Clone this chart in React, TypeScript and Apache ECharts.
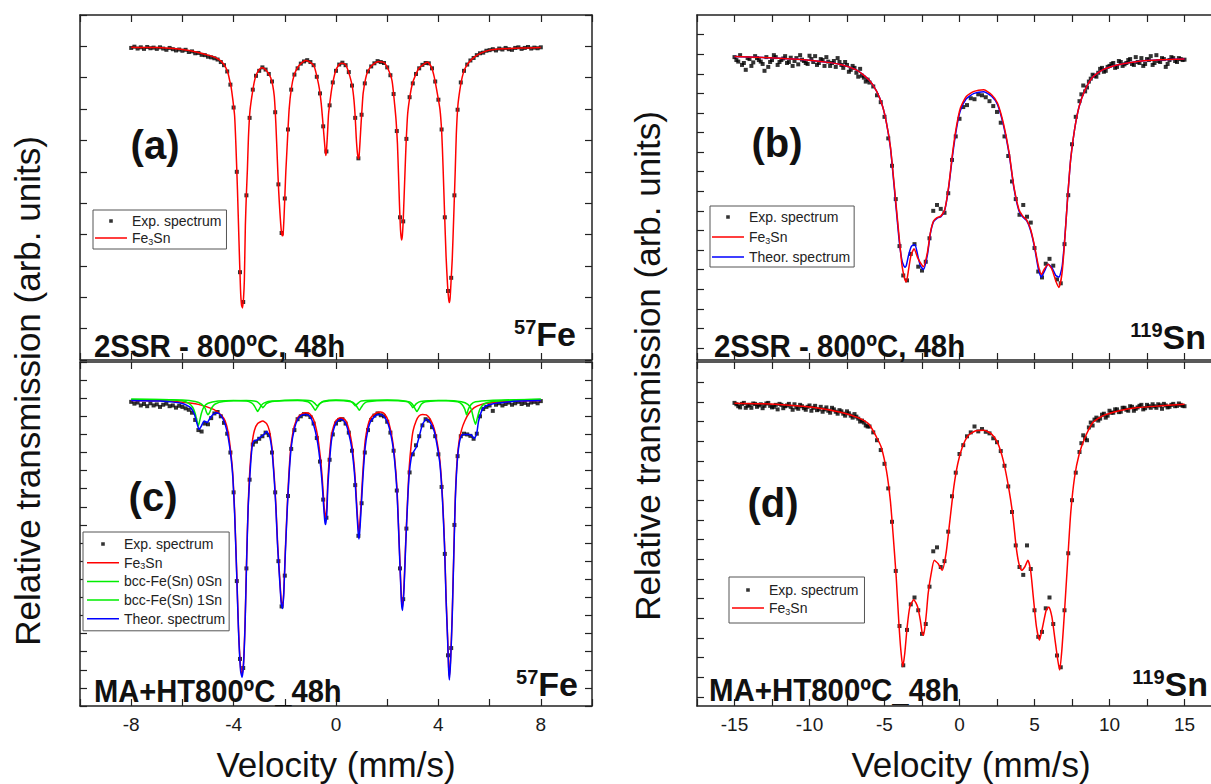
import React, { useEffect, useRef } from 'react';
import * as echarts from 'echarts';

const FONT = '"Liberation Sans", Arial, Helvetica, sans-serif';
const FRAME = '#222';

// ---------- tick labels ----------
const FE_TICK_LABELS = [-8, -4, 0, 4, 8];
const SN_TICK_LABELS = [-15, -10, -5, 0, 5, 10, 15];
const SN_Y_TICKS = [85, 86, 87, 88, 89, 90, 91, 92, 93, 94, 95, 96, 97, 98, 99, 100, 101];

// ---------- panel (a) 57Fe, 2SSR ----------
const A_EXP = [
[-8,99.95],[-7.875,99.99],[-7.75,99.93],[-7.625,99.97],[-7.5,99.92],[-7.375,99.98],[-7.25,99.94],[-7.125,99.96],[-7,99.92],[-6.875,99.97],[-6.75,99.93],[-6.625,99.89],[-6.5,99.95],[-6.375,99.91],[-6.25,99.87],[-6.125,99.9],[-6,99.86],[-5.875,99.89],[-5.75,99.82],[-5.625,99.84],[-5.5,99.78],[-5.375,99.79],[-5.25,99.73],[-5.125,99.72],[-5,99.67],[-4.875,99.65],[-4.75,99.62],[-4.625,99.58],[-4.5,99.5],[-4.375,99.4],[-4.25,99.2],[-4.125,98.78],[-4,98.05],[-3.875,96],[-3.75,92.8],[-3.625,91.85],[-3.5,95.25],[-3.375,97.72],[-3.25,98.62],[-3.125,99.06],[-3,99.22],[-2.875,99.33],[-2.75,99.26],[-2.625,99.12],[-2.5,98.88],[-2.375,97.9],[-2.25,95.6],[-2.125,94.05],[-2,95.15],[-1.875,97.35],[-1.75,98.62],[-1.625,99.1],[-1.5,99.3],[-1.375,99.45],[-1.25,99.52],[-1.125,99.56],[-1,99.5],[-0.875,99.4],[-0.75,99.03],[-0.625,98.5],[-0.5,97.45],[-0.375,96.65],[-0.25,98.12],[-0.125,98.85],[0,99.22],[0.125,99.42],[0.25,99.48],[0.375,99.4],[0.5,99.18],[0.625,98.75],[0.75,97.72],[0.875,96.43],[1,97.82],[1.125,98.82],[1.25,99.2],[1.375,99.36],[1.5,99.46],[1.625,99.53],[1.75,99.5],[1.875,99.47],[2,99.33],[2.125,99.08],[2.25,98.48],[2.375,97.3],[2.5,94.55],[2.625,94.42],[2.75,97.05],[2.875,98.38],[3,98.82],[3.125,99.12],[3.25,99.3],[3.375,99.41],[3.5,99.47],[3.625,99.46],[3.75,99.3],[3.875,98.88],[4,98.3],[4.125,97.35],[4.25,94.55],[4.375,92.2],[4.5,92.62],[4.625,95.25],[4.75,97.98],[4.875,98.85],[5,99.22],[5.125,99.42],[5.25,99.55],[5.375,99.63],[5.5,99.72],[5.625,99.78],[5.75,99.8],[5.875,99.86],[6,99.88],[6.125,99.91],[6.25,99.87],[6.375,99.93],[6.5,99.9],[6.625,99.95],[6.75,99.91],[6.875,99.89],[7,99.95],[7.125,99.97],[7.25,99.92],[7.375,99.95],[7.5,99.98],[7.625,99.93],[7.75,99.96],[7.875,99.94],[8,99.97]
];
const A_FE3SN = [
[-8,99.97],[-7.5,99.96],[-7,99.96],[-6.5,99.94],[-6,99.9],[-5.5,99.83],[-5,99.72],[-4.7,99.64],[-4.48,99.52],[-4.33,99.36],[-4.22,99.15],[-4.15,98.9],[-4.1,98.72],[-4.03,98.3],[-3.96,97.78],[-3.91,96.85],[-3.85,95.45],[-3.79,93.8],[-3.73,92.25],[-3.69,91.75],[-3.65,91.66],[-3.61,92],[-3.58,92.55],[-3.54,94.3],[-3.5,95.3],[-3.46,96.1],[-3.42,97.1],[-3.36,97.95],[-3.25,98.6],[-3.16,98.98],[-3.05,99.2],[-2.9,99.32],[-2.78,99.28],[-2.65,99.15],[-2.55,99],[-2.47,98.75],[-2.41,98.4],[-2.35,97.55],[-2.29,96.35],[-2.24,95.4],[-2.19,94.7],[-2.14,94.15],[-2.1,93.96],[-2.07,93.98],[-2.03,94.55],[-1.99,95.4],[-1.96,96],[-1.9,96.95],[-1.83,98],[-1.74,98.68],[-1.63,99.1],[-1.48,99.35],[-1.33,99.48],[-1.18,99.55],[-1,99.49],[-0.85,99.36],[-0.73,98.98],[-0.65,98.65],[-0.58,98.2],[-0.52,97.65],[-0.47,97.15],[-0.43,96.75],[-0.4,96.52],[-0.37,96.7],[-0.33,97.25],[-0.29,97.85],[-0.21,98.4],[-0.14,98.78],[-0.02,99.2],[0.1,99.4],[0.22,99.46],[0.32,99.45],[0.4,99.38],[0.54,99.05],[0.64,98.7],[0.7,98.3],[0.75,97.75],[0.79,97.1],[0.83,96.65],[0.87,96.42],[0.9,96.48],[0.94,96.98],[0.98,97.55],[1.02,98.05],[1.06,98.5],[1.15,98.95],[1.24,99.2],[1.39,99.38],[1.55,99.48],[1.66,99.52],[1.8,99.5],[1.89,99.48],[2.04,99.27],[2.19,98.9],[2.29,98.15],[2.35,97.6],[2.4,96.9],[2.44,95.95],[2.48,94.95],[2.52,94.15],[2.56,93.83],[2.59,93.95],[2.62,94.35],[2.66,95.2],[2.7,96.1],[2.74,96.95],[2.8,97.85],[2.89,98.42],[2.98,98.8],[3.09,99.05],[3.24,99.3],[3.46,99.45],[3.58,99.49],[3.73,99.33],[3.83,99.05],[3.94,98.58],[4.06,98],[4.13,97.25],[4.18,96.2],[4.24,94.7],[4.3,93.3],[4.36,92.35],[4.4,91.95],[4.43,91.83],[4.46,92],[4.5,92.6],[4.54,93.2],[4.6,94.6],[4.66,96.1],[4.7,97.2],[4.76,98.1],[4.84,98.62],[4.93,99.02],[5.03,99.28],[5.18,99.48],[5.4,99.66],[5.7,99.8],[6,99.88],[6.5,99.92],[7,99.94],[7.5,99.95],[8,99.96]
];

// ---------- panel (c) 57Fe, MA+HT ----------
const C_EXP = [
[-8,99.9],[-7.875,99.85],[-7.75,99.88],[-7.625,99.8],[-7.5,99.84],[-7.375,99.78],[-7.25,99.86],[-7.125,99.8],[-7,99.83],[-6.875,99.76],[-6.75,99.82],[-6.625,99.85],[-6.5,99.78],[-6.375,99.8],[-6.25,99.74],[-6.125,99.79],[-6,99.76],[-5.875,99.72],[-5.75,99.68],[-5.625,99.6],[-5.5,99.4],[-5.375,99.12],[-5.25,99.08],[-5.125,99.3],[-5,99.28],[-4.875,99.45],[-4.75,99.58],[-4.625,99.62],[-4.5,99.5],[-4.375,99.32],[-4.25,99.02],[-4.125,98.5],[-4,97.4],[-3.875,94.95],[-3.75,92.8],[-3.625,92.55],[-3.5,95.3],[-3.375,97.75],[-3.25,98.72],[-3.125,98.8],[-3,98.88],[-2.875,98.95],[-2.75,99.05],[-2.625,98.98],[-2.5,98.5],[-2.375,97.4],[-2.25,95.5],[-2.125,94.25],[-2,95.1],[-1.875,97.3],[-1.75,98.6],[-1.625,99.12],[-1.5,99.42],[-1.375,99.5],[-1.25,99.56],[-1.125,99.55],[-1,99.48],[-0.875,99.3],[-0.75,98.9],[-0.625,98.25],[-0.5,97.2],[-0.375,96.7],[-0.25,98.3],[-0.125,99],[0,99.3],[0.125,99.4],[0.25,99.42],[0.375,99.3],[0.5,99.05],[0.625,98.55],[0.75,97.6],[0.875,96.2],[1,97.1],[1.125,98.5],[1.25,99.12],[1.375,99.4],[1.5,99.52],[1.625,99.58],[1.75,99.53],[1.875,99.5],[2,99.35],[2.125,99.05],[2.25,98.55],[2.375,97.45],[2.5,95.3],[2.625,94.45],[2.75,96.4],[2.875,97.95],[3,98.45],[3.125,98.7],[3.25,98.95],[3.375,99.25],[3.5,99.42],[3.625,99.38],[3.75,99.2],[3.875,98.95],[4,98.45],[4.125,97.55],[4.25,95.7],[4.375,92.9],[4.5,93.1],[4.625,96.5],[4.75,98.4],[4.875,98.95],[5,99.02],[5.125,99],[5.25,98.96],[5.375,98.88],[5.5,99.02],[5.625,99.5],[5.75,99.7],[5.875,99.76],[6,99.8],[6.125,99.65],[6.25,99.82],[6.375,99.86],[6.5,99.8],[6.625,99.84],[6.75,99.88],[6.875,99.82],[7,99.86],[7.125,99.9],[7.25,99.84],[7.375,99.87],[7.5,99.82],[7.625,99.88],[7.75,99.9],[7.875,99.86],[8,99.92]
];
const C_FE3SN = [
[-8,99.94],[-6.88,99.93],[-5.98,99.89],[-5.38,99.83],[-4.78,99.69],[-4.48,99.53],[-4.33,99.37],[-4.21,99.05],[-4.1,98.45],[-4.03,97.9],[-3.96,96.89],[-3.88,95.24],[-3.81,93.68],[-3.73,92.58],[-3.67,92.35],[-3.61,92.72],[-3.55,93.87],[-3.49,95.61],[-3.43,97.08],[-3.36,98.09],[-3.28,98.73],[-3.19,99.1],[-3.06,99.3],[-2.86,99.37],[-2.71,99.3],[-2.6,99.1],[-2.5,98.64],[-2.41,97.81],[-2.35,97.08],[-2.28,95.98],[-2.2,95.06],[-2.14,94.42],[-2.09,94.23],[-2.04,94.65],[-1.98,95.79],[-1.9,97.08],[-1.83,98.04],[-1.75,98.73],[-1.63,99.23],[-1.48,99.48],[-1.33,99.57],[-1.18,99.6],[-1.03,99.57],[-0.88,99.42],[-0.73,99],[-0.61,98.36],[-0.54,97.81],[-0.48,97.17],[-0.44,96.8],[-0.41,96.71],[-0.36,96.99],[-0.32,97.72],[-0.26,98.36],[-0.18,98.96],[-0.09,99.23],[0.01,99.39],[0.16,99.46],[0.28,99.44],[0.39,99.37],[0.49,99.17],[0.61,98.78],[0.7,98.22],[0.76,97.67],[0.82,96.94],[0.87,96.44],[0.9,96.3],[0.94,96.62],[1,97.35],[1.06,98.09],[1.14,98.82],[1.24,99.23],[1.36,99.46],[1.59,99.6],[1.74,99.62],[1.89,99.57],[2.04,99.37],[2.19,98.91],[2.29,98.36],[2.38,97.54],[2.44,96.53],[2.5,95.43],[2.56,94.42],[2.6,94.23],[2.66,94.88],[2.72,95.98],[2.8,97.26],[2.86,98.09],[2.94,98.73],[3.01,99.1],[3.13,99.37],[3.24,99.51],[3.38,99.55],[3.53,99.54],[3.68,99.42],[3.83,99.17],[3.94,98.82],[4.06,98.27],[4.16,97.26],[4.24,95.98],[4.3,94.51],[4.36,93.41],[4.4,92.58],[4.43,92.31],[4.48,92.86],[4.54,94.05],[4.6,95.7],[4.66,97.26],[4.73,98.27],[4.81,98.82],[4.91,99.14],[5.03,99.37],[5.18,99.57],[5.4,99.74],[5.69,99.83],[6.14,99.88],[6.9,99.92],[8,99.94]
];
const C_BCC0 = [
[-8,99.97],[-6.5,99.96],[-6,99.93],[-5.75,99.86],[-5.6,99.75],[-5.5,99.58],[-5.43,99.36],[-5.38,99.23],[-5.33,99.36],[-5.26,99.58],[-5.16,99.76],[-5,99.86],[-4.6,99.92],[-4,99.94],[-3.5,99.92],[-3.3,99.87],[-3.2,99.8],[-3.12,99.7],[-3.06,99.63],[-3,99.7],[-2.92,99.8],[-2.8,99.87],[-2.5,99.92],[-1.5,99.94],[-1.1,99.9],[-0.98,99.84],[-0.88,99.74],[-0.81,99.67],[-0.74,99.74],[-0.64,99.84],[-0.5,99.9],[0,99.94],[0.6,99.9],[0.74,99.84],[0.84,99.74],[0.91,99.67],[0.98,99.74],[1.08,99.84],[1.22,99.9],[2,99.94],[2.85,99.9],[2.98,99.84],[3.08,99.72],[3.16,99.63],[3.24,99.72],[3.34,99.84],[3.5,99.9],[4.3,99.94],[4.9,99.9],[5.15,99.83],[5.28,99.7],[5.37,99.45],[5.45,99.28],[5.52,99.45],[5.62,99.7],[5.78,99.84],[6.1,99.91],[7,99.95],[8,99.97]
];
const C_BCC1 = [
[-8,99.97],[-6,99.95],[-5.5,99.91],[-5.25,99.84],[-5.12,99.73],[-5.05,99.6],[-5,99.54],[-4.94,99.6],[-4.86,99.73],[-4.72,99.84],[-4.4,99.91],[-3.5,99.94],[-3.1,99.91],[-2.98,99.84],[-2.91,99.78],[-2.86,99.74],[-2.8,99.78],[-2.72,99.85],[-2.5,99.91],[-1.5,99.95],[-0.95,99.92],[-0.82,99.85],[-0.73,99.79],[-0.64,99.85],[-0.5,99.92],[0,99.95],[0.55,99.92],[0.68,99.85],[0.76,99.79],[0.84,99.85],[0.98,99.92],[2,99.95],[2.78,99.91],[2.9,99.84],[2.96,99.78],[3,99.74],[3.06,99.78],[3.14,99.85],[3.3,99.91],[4,99.94],[4.75,99.9],[4.92,99.83],[5.03,99.7],[5.1,99.54],[5.17,99.7],[5.28,99.83],[5.45,99.9],[6,99.94],[8,99.97]
];
const C_THEOR = [
[-8,99.94],[-6.88,99.92],[-5.98,99.85],[-5.68,99.74],[-5.53,99.55],[-5.42,99.28],[-5.35,99.14],[-5.26,99.23],[-5.15,99.37],[-5.03,99.33],[-4.93,99.44],[-4.78,99.57],[-4.63,99.6],[-4.48,99.51],[-4.33,99.28],[-4.21,98.91],[-4.1,98.36],[-4.03,97.81],[-3.96,96.8],[-3.88,95.15],[-3.81,93.59],[-3.73,92.49],[-3.67,92.29],[-3.61,92.67],[-3.55,93.78],[-3.49,95.52],[-3.43,96.99],[-3.36,97.9],[-3.28,98.64],[-3.21,98.82],[-3.1,98.84],[-2.98,98.91],[-2.83,98.99],[-2.71,99.08],[-2.6,98.96],[-2.5,98.55],[-2.41,97.72],[-2.35,96.99],[-2.28,95.89],[-2.2,94.97],[-2.14,94.33],[-2.09,94.19],[-2.04,94.6],[-1.98,95.7],[-1.9,96.99],[-1.83,97.9],[-1.75,98.64],[-1.63,99.14],[-1.48,99.44],[-1.33,99.54],[-1.18,99.55],[-1.03,99.51],[-0.88,99.28],[-0.73,98.82],[-0.61,98.18],[-0.54,97.63],[-0.48,96.99],[-0.44,96.62],[-0.41,96.51],[-0.36,96.8],[-0.32,97.54],[-0.26,98.18],[-0.18,98.82],[-0.09,99.14],[0.01,99.33],[0.16,99.42],[0.28,99.39],[0.39,99.28],[0.49,99.05],[0.61,98.64],[0.7,98.09],[0.76,97.54],[0.82,96.8],[0.87,96.25],[0.9,96.11],[0.94,96.44],[1,97.17],[1.06,97.9],[1.14,98.64],[1.24,99.1],[1.36,99.37],[1.59,99.54],[1.74,99.55],[1.89,99.48],[2.04,99.28],[2.19,98.82],[2.29,98.27],[2.38,97.44],[2.44,96.44],[2.5,95.34],[2.56,94.33],[2.6,94.14],[2.66,94.78],[2.72,95.89],[2.8,97.17],[2.86,97.9],[2.94,98.36],[3.01,98.5],[3.13,98.64],[3.24,98.91],[3.38,99.28],[3.53,99.42],[3.68,99.33],[3.83,99.1],[3.94,98.73],[4.06,98.18],[4.16,97.17],[4.24,95.89],[4.3,94.42],[4.36,93.32],[4.4,92.49],[4.43,92.22],[4.48,92.77],[4.54,93.96],[4.6,95.61],[4.66,97.17],[4.73,98.18],[4.81,98.73],[4.91,98.98],[5.03,99],[5.18,99],[5.29,98.98],[5.4,98.89],[5.49,99],[5.57,99.37],[5.69,99.65],[5.84,99.78],[6.14,99.85],[6.6,99.89],[7.2,99.92],[8,99.94]
];

// ---------- panel (b) 119Sn, 2SSR ----------
const B_EXP = [
[-15,99.85],[-14.75,99.62],[-14.5,99.45],[-14.25,99.2],[-14,99.75],[-13.75,99.58],[-13.5,99.8],[-13.25,99.62],[-13,99.15],[-12.75,99.35],[-12.5,99.7],[-12.25,99.85],[-12,99.6],[-11.75,99.78],[-11.5,99.55],[-11.25,99.82],[-11,99.65],[-10.75,99.48],[-10.5,99.72],[-10.25,99.55],[-10,99.92],[-9.75,99.6],[-9.5,99.45],[-9.25,99.75],[-9,99.4],[-8.75,99.62],[-8.5,99.55],[-8.25,99.35],[-8,99.6],[-7.75,99.3],[-7.5,99.45],[-7.25,99.2],[-7,99.3],[-6.75,98.85],[-6.5,98.9],[-6.25,98.6],[-6,98.55],[-5.75,98.35],[-5.5,97.9],[-5.25,97.55],[-5,96.8],[-4.75,95.7],[-4.5,94.3],[-4.25,92.6],[-4,90.2],[-3.75,88.7],[-3.5,88.45],[-3.25,89.8],[-3,90.3],[-2.75,89.15],[-2.5,88.95],[-2.25,89.4],[-2,90.6],[-1.75,92],[-1.5,92.3],[-1.25,92.1],[-1,91.9],[-0.75,92.9],[-0.5,94.6],[-0.25,95.8],[0,96.7],[0.25,97.3],[0.5,97.4],[0.75,97.75],[1,97.7],[1.25,97.95],[1.5,97.9],[1.75,97.8],[2,97.6],[2.25,97.35],[2.5,97.05],[2.75,96.5],[3,95.8],[3.25,94.8],[3.5,93.5],[3.75,92.6],[4,91.8],[4.25,92.3],[4.5,91.7],[4.75,91.4],[5,90.1],[5.25,88.9],[5.5,88.6],[5.75,89.3],[6,89.55],[6.25,89.2],[6.5,88.5],[6.75,88.3],[7,90.3],[7.25,92.8],[7.5,95.4],[7.75,96.8],[8,97.6],[8.25,98.4],[8.5,98.3],[8.75,98.75],[9,98.9],[9.25,99.05],[9.5,99.3],[9.75,99.15],[10,99.4],[10.25,99.55],[10.5,99.35],[10.75,99.6],[11,99.48],[11.25,99.7],[11.5,99.5],[11.75,99.85],[12,99.55],[12.25,99.4],[12.5,99.75],[12.75,99.9],[13,99.55],[13.25,99.65],[13.5,99.8],[13.75,99.35],[14,99.7],[14.25,99.8],[14.5,99.6],[14.75,99.75],[15,99.72]
];
const B_EXP_WINGS = [
[-14.875,99.7],[-14.625,99.95],[-14.375,99.55],[-14.125,99.8],[-13.875,99.4],[-13.625,99.9],[-13.375,99.7],[-13.125,99.5],[-12.875,99.85],[-12.625,99.6],[-12.375,99.95],[-12.125,99.45],[-11.875,99.7],[-11.625,99.9],[-11.375,99.6],[-11.125,99.4],[-10.875,99.8],[-10.625,99.95],[-10.375,99.65],[-10.125,99.5],[-9.875,99.75],[-9.625,99.9],[-9.375,99.55],[-9.125,99.7],[-8.875,99.85],[-8.625,99.4],[-8.375,99.65],[-8.125,99.8],[-7.875,99.45],[-7.625,99.6],[-7.375,99.1],[-7.125,99.4],[-6.875,99.05],[-6.625,99.25],[-6.375,98.8],[-6.125,98.7],
[8.125,97.95],[8.375,98.1],[8.625,98.6],[8.875,98.95],[9.125,98.85],[9.375,99.25],[9.625,99.1],[9.875,99.35],[10.125,99.5],[10.375,99.3],[10.625,99.65],[10.875,99.4],[11.125,99.55],[11.375,99.75],[11.625,99.45],[11.875,99.6],[12.125,99.8],[12.375,99.5],[12.625,99.7],[12.875,99.45],[13.125,99.95],[13.375,99.6],[13.625,99.75],[13.875,99.5],[14.125,99.85],[14.375,99.65],[14.625,99.8],[14.875,99.7]
];
const B_FE3SN = [
[-15,99.88],[-12.27,99.8],[-9.68,99.66],[-7.86,99.46],[-6.82,99.17],[-6.04,98.69],[-5.52,98.1],[-5.13,97.34],[-4.87,96.49],[-4.61,95.3],[-4.43,93.94],[-4.22,92.24],[-4.01,90.55],[-3.83,89.19],[-3.65,88.51],[-3.55,88.37],[-3.39,89.02],[-3.24,89.7],[-3.03,90.07],[-2.79,89.61],[-2.61,89.35],[-2.4,89.15],[-2.14,89.87],[-1.94,90.89],[-1.73,91.48],[-1.5,91.65],[-1.24,91.73],[-0.98,92.07],[-0.72,93.26],[-0.46,94.96],[-0.2,96.32],[0.06,97.25],[0.45,97.84],[0.97,98.1],[1.62,98.18],[2.14,97.93],[2.53,97.51],[2.92,96.49],[3.31,94.96],[3.62,93.26],[3.96,92.07],[4.22,91.73],[4.48,91.53],[4.74,91.06],[5,90.21],[5.26,89.19],[5.46,88.76],[5.65,89.02],[5.91,89.27],[6.16,89.02],[6.42,88.42],[6.63,88.09],[6.84,88.85],[7.02,90.55],[7.2,92.58],[7.41,94.62],[7.67,96.15],[7.98,97.34],[8.37,98.18],[8.89,98.83],[9.54,99.2],[10.58,99.46],[11.88,99.63],[13.44,99.71],[15,99.75]
];
const B_THEOR = [
[-15,99.88],[-12.27,99.8],[-9.68,99.66],[-7.86,99.46],[-6.82,99.17],[-6.04,98.69],[-5.52,98.1],[-5.13,97.34],[-4.87,96.49],[-4.61,95.25],[-4.43,93.85],[-4.22,92.1],[-4.01,90.4],[-3.83,89.45],[-3.65,89.12],[-3.55,89.2],[-3.39,89.75],[-3.2,90.2],[-2.98,90.28],[-2.79,89.75],[-2.61,89.2],[-2.4,89],[-2.14,89.75],[-1.94,90.85],[-1.73,91.45],[-1.5,91.62],[-1.24,91.7],[-0.98,92.05],[-0.72,93.2],[-0.46,94.85],[-0.2,96.2],[0.06,97.12],[0.45,97.72],[0.97,98],[1.62,98.08],[2.14,97.85],[2.53,97.43],[2.92,96.4],[3.31,94.9],[3.62,93.2],[3.96,92],[4.22,91.68],[4.48,91.5],[4.74,91],[5,90.15],[5.26,89.02],[5.46,88.62],[5.65,88.9],[5.91,89.27],[6.16,89.1],[6.42,88.7],[6.63,88.62],[6.84,89.15],[7.02,90.62],[7.2,92.58],[7.41,94.62],[7.67,96.15],[7.98,97.34],[8.37,98.18],[8.89,98.83],[9.54,99.2],[10.58,99.46],[11.88,99.63],[13.44,99.71],[15,99.75]
];

// ---------- panel (d) 119Sn, MA+HT ----------
const D_EXP = [
[-15,99.95],[-14.75,99.78],[-14.5,99.9],[-14.25,99.7],[-14,99.85],[-13.75,99.92],[-13.5,99.75],[-13.25,99.88],[-13,99.8],[-12.75,99.95],[-12.5,99.72],[-12.25,99.85],[-12,99.9],[-11.75,99.68],[-11.5,99.82],[-11.25,99.75],[-11,99.88],[-10.75,99.65],[-10.5,99.78],[-10.25,99.6],[-10,99.82],[-9.75,99.7],[-9.5,99.58],[-9.25,99.75],[-9,99.62],[-8.75,99.55],[-8.5,99.7],[-8.25,99.5],[-8,99.58],[-7.75,99.4],[-7.5,99.52],[-7.25,99.3],[-7,99.38],[-6.75,99.15],[-6.5,99.05],[-6.25,98.8],[-6,98.75],[-5.75,98.45],[-5.5,98.05],[-5.25,97.55],[-5,96.85],[-4.75,95.6],[-4.5,93.9],[-4.25,91.4],[-4,88.6],[-3.75,86.6],[-3.5,88.4],[-3.25,89.7],[-3,90.05],[-2.75,89.4],[-2.5,88.2],[-2.25,88.7],[-2,90.6],[-1.75,92.4],[-1.5,92.6],[-1.25,91.6],[-1,91.9],[-0.75,93.4],[-0.5,95.2],[-0.25,96.4],[0,97.35],[0.25,97.8],[0.5,98.25],[0.75,98.45],[1,98.75],[1.25,98.5],[1.5,98.62],[1.75,98.48],[2,98.4],[2.25,98.15],[2.5,97.95],[2.75,97.5],[3,96.75],[3.25,95.7],[3.5,94.4],[3.75,92.7],[4,91.6],[4.25,91.2],[4.5,92.7],[4.75,91.5],[5,89.4],[5.25,88.05],[5.5,88.3],[5.75,89.5],[6,90.05],[6.25,88.7],[6.5,87.1],[6.75,86.5],[7,89.4],[7.25,92.3],[7.5,95],[7.75,96.4],[8,97.45],[8.25,98.3],[8.5,98.05],[8.75,98.95],[9,99.1],[9.25,99.05],[9.5,99.35],[9.75,99.2],[10,99.55],[10.25,99.45],[10.5,99.62],[10.75,99.5],[11,99.7],[11.25,99.55],[11.5,99.75],[11.75,99.65],[12,99.8],[12.25,99.62],[12.5,99.85],[12.75,99.7],[13,99.78],[13.25,99.88],[13.5,99.65],[13.75,99.82],[14,99.75],[14.25,99.9],[14.5,99.8],[14.75,99.85],[15,99.78]
];
const D_EXP_WINGS = [
[-14.875,99.88],[-14.625,99.72],[-14.375,99.95],[-14.125,99.8],[-13.875,99.7],[-13.625,99.9],[-13.375,99.82],[-13.125,99.68],[-12.875,99.92],[-12.625,99.8],[-12.375,99.75],[-12.125,99.62],[-11.875,99.85],[-11.625,99.78],[-11.375,99.9],[-11.125,99.6],[-10.875,99.72],[-10.625,99.85],[-10.375,99.68],[-10.125,99.75],[-9.875,99.55],[-9.625,99.8],[-9.375,99.62],[-9.125,99.5],[-8.875,99.72],[-8.625,99.45],[-8.375,99.62],[-8.125,99.4],[-7.875,99.52],[-7.625,99.3],[-7.375,99.42],[-7.125,99.2],[-6.875,99.25],[-6.625,99],[-6.375,98.95],[-6.125,98.75],
[8.125,97.9],[8.375,98.15],[8.625,98.7],[8.875,98.8],[9.125,99.2],[9.375,99.15],[9.625,99.4],[9.875,99.3],[10.125,99.45],[10.375,99.62],[10.625,99.48],[10.875,99.7],[11.125,99.6],[11.375,99.78],[11.625,99.55],[11.875,99.72],[12.125,99.85],[12.375,99.68],[12.625,99.78],[12.875,99.88],[13.125,99.7],[13.375,99.82],[13.625,99.9],[13.875,99.72],[14.125,99.85],[14.375,99.78],[14.625,99.92],[14.875,99.8]
];
const D_FE3SN = [
[-15,99.93],[-12.27,99.88],[-9.68,99.71],[-7.86,99.46],[-6.82,99.21],[-6.04,98.87],[-5.52,98.19],[-5.21,97.68],[-4.87,96.5],[-4.61,94.98],[-4.43,93.29],[-4.22,91.09],[-4.04,88.73],[-3.91,87.37],[-3.78,86.53],[-3.65,87.2],[-3.49,88.55],[-3.31,89.57],[-3.05,89.94],[-2.79,89.57],[-2.61,88.89],[-2.48,88.2],[-2.4,88.13],[-2.3,88.6],[-2.2,89.3],[-2.09,90.25],[-1.89,91.26],[-1.68,91.94],[-1.42,91.77],[-1.16,91.43],[-0.9,92.28],[-0.64,93.97],[-0.38,95.66],[-0.12,96.84],[0.18,97.68],[0.57,98.28],[1.09,98.53],[1.62,98.56],[2.14,98.36],[2.53,97.94],[2.92,97.01],[3.31,95.49],[3.57,94.13],[3.78,92.61],[3.96,91.77],[4.14,91.43],[4.35,91.6],[4.56,91.94],[4.74,91.43],[4.92,90.08],[5.13,88.55],[5.33,87.88],[5.54,88.55],[5.78,89.4],[5.96,89.57],[6.16,89.06],[6.37,87.88],[6.55,86.87],[6.68,86.36],[6.84,87.54],[7.02,89.57],[7.2,91.77],[7.41,94.3],[7.67,96.16],[7.98,97.35],[8.37,98.19],[8.89,98.95],[9.54,99.29],[10.58,99.54],[11.88,99.71],[13.44,99.8],[15,99.88]
];

// ---------- helpers ----------
const DOT_ICON = 'path://M0,0L0.01,0M32,12L32.01,12M14.2,4.2L17.8,4.2L17.8,7.8L14.2,7.8Z';
const LINE_ICON = 'path://M0,0L0.01,0M32,12L32.01,12M0,5.25L32,5.25L32,6.75L0,6.75Z';

function xAxes(gi: number, min: number, max: number, interval: number, labels: number[] | null) {
  const common: any = {
    type: 'value', gridIndex: gi, min, max, interval,
    splitLine: { show: false },
    axisLine: { show: true, onZero: false, lineStyle: { color: FRAME, width: 1.5 } },
    axisTick: { show: true, inside: true, length: 7, lineStyle: { color: FRAME, width: 1.2 } },
  };
  return [
    {
      ...common, position: 'bottom',
      axisLabel: labels
        ? { show: true, margin: 9, color: '#1a1a1a', fontSize: 19, fontFamily: FONT,
            formatter: (v: number) => (labels.indexOf(Math.round(v * 100) / 100) >= 0 ? String(Math.round(v)) : '') }
        : { show: false },
    },
    { ...common, position: 'top', axisLabel: { show: false } },
  ];
}

function yAxes(gi: number, min: number, max: number, interval: number | null, ticks: number[] | null) {
  const tick: any = { show: true, inside: true, length: 7, lineStyle: { color: FRAME, width: 1.2 } };
  if (ticks) tick.customValues = ticks;
  const common: any = {
    type: 'value', gridIndex: gi, min, max,
    splitLine: { show: false },
    axisLabel: { show: false },
    axisLine: { show: true, onZero: false, lineStyle: { color: FRAME, width: 1.5 } },
    axisTick: tick,
  };
  if (interval) common.interval = interval;
  return [{ ...common, position: 'left' }, { ...common, position: 'right' }];
}

function scatter(name: string, data: number[][], gi: number) {
  return {
    type: 'scatter', name, data, xAxisIndex: 2 * gi, yAxisIndex: 2 * gi,
    symbol: 'rect', symbolSize: 4, itemStyle: { color: '#000' }, z: 2, silent: true,
  };
}
function line(name: string, data: number[][], gi: number, color: string, z = 3) {
  return {
    type: 'line', name, data, xAxisIndex: 2 * gi, yAxisIndex: 2 * gi,
    symbol: 'none', smooth: 0.2, lineStyle: { color, width: 1.5 }, itemStyle: { color }, z, silent: true,
  };
}

function legend(left: number, top: number, names: string[], padding: number[], itemGap: number) {
  return {
    orient: 'vertical', left, top, padding, itemGap,
    backgroundColor: '#fff', borderColor: '#555', borderWidth: 1, borderRadius: 0,
    itemWidth: 32, itemHeight: 12, selectedMode: false,
    itemStyle: { borderWidth: 0 },
    data: names.map((n) => ({ name: n, icon: n === 'Exp. spectrum' ? DOT_ICON : LINE_ICON })),
    formatter: (n: string) => (n === 'Fe3Sn' ? 'Fe{s|3}Sn' : n),
    textStyle: {
      fontFamily: FONT, fontSize: 14, color: '#222', lineHeight: 16,
      rich: { s: { fontFamily: FONT, fontSize: 9, color: '#222', verticalAlign: 'bottom', lineHeight: 10 } },
    },
  };
}

function label(x: number, y: number, text: string, size: number, scaleX = 1) {
  return {
    type: 'text', x, y, scaleX, z: 20, silent: true,
    style: { text, fontSize: size, fontWeight: 'bold', fontFamily: FONT, fill: '#111', align: 'left', verticalAlign: 'middle' },
  };
}
function panelTag(x: number, y: number, text: string) {
  return {
    type: 'text', x, y, z: 20, silent: true,
    style: { text, fontSize: 40, fontWeight: 'bold', fontFamily: FONT, fill: '#111', align: 'center', verticalAlign: 'middle' },
  };
}
function iso(xRight: number, y: number, mass: string, el: string) {
  return {
    type: 'text', x: xRight, y, z: 20, silent: true,
    style: {
      text: `{sup|${mass}}{main|${el}}`, align: 'right', verticalAlign: 'middle', fill: '#111',
      rich: {
        sup: { fontSize: 20, fontWeight: 'bold', fontFamily: FONT, fill: '#111', verticalAlign: 'top' },
        main: { fontSize: 34, fontWeight: 'bold', fontFamily: FONT, fill: '#111' },
      },
    },
  };
}
function plain(x: number, y: number, text: string, size: number, rotation = 0) {
  return {
    type: 'text', x, y, rotation, z: 20, silent: true,
    style: { text, fontSize: size, fontFamily: FONT, fill: '#111', align: 'center', verticalAlign: 'middle' },
  };
}

const option: any = {
  animation: false,
  backgroundColor: '#fff',
  grid: [
    { left: 80, top: 15, width: 512, height: 345, outerBoundsMode: 'none' },
    { left: 80, top: 362, width: 512, height: 344, outerBoundsMode: 'none' },
    { left: 697, top: 15, width: 525, height: 345, outerBoundsMode: 'none' },
    { left: 697, top: 362, width: 525, height: 344, outerBoundsMode: 'none' },
  ],
  xAxis: [
    ...xAxes(0, -10, 10, 2, null),
    ...xAxes(1, -10, 10, 2, FE_TICK_LABELS),
    ...xAxes(2, -17.5, 17.5, 2.5, null),
    ...xAxes(3, -17.5, 17.5, 2.5, SN_TICK_LABELS),
  ],
  yAxis: [
    ...yAxes(0, 90, 101, 1, null),
    ...yAxes(1, 91.5, 101, 0.5, null),
    ...yAxes(2, 84.384, 102.0, null, SN_Y_TICKS),
    ...yAxes(3, 84.53, 102.03, null, SN_Y_TICKS),
  ],
  legend: [
    legend(93, 210, ['Exp. spectrum', 'Fe3Sn'], [3, 5, 3, 2], 1),
    legend(83, 532, ['Exp. spectrum', 'Fe3Sn', 'bcc-Fe(Sn) 0Sn', 'bcc-Fe(Sn) 1Sn', 'Theor. spectrum'], [4, 4, 4, 4], 2.7),
    legend(710, 206, ['Exp. spectrum', 'Fe3Sn', 'Theor. spectrum'], [3, 4, 2, 2], 4),
    legend(729, 577, ['Exp. spectrum', 'Fe3Sn'], [5, 6, 7, 3], 2),
  ],
  series: [
    scatter('Exp. spectrum', A_EXP, 0),
    line('Fe3Sn', A_FE3SN, 0, '#ff0000'),
    scatter('Exp. spectrum', C_EXP, 1),
    line('Fe3Sn', C_FE3SN, 1, '#ff0000'),
    line('bcc-Fe(Sn) 0Sn', C_BCC0, 1, '#00ee00'),
    line('bcc-Fe(Sn) 1Sn', C_BCC1, 1, '#00ee00'),
    line('Theor. spectrum', C_THEOR, 1, '#0000ff', 4),
    scatter('Exp. spectrum', [...B_EXP, ...B_EXP_WINGS], 2),
    line('Theor. spectrum', B_THEOR, 2, '#0000ff', 3),
    line('Fe3Sn', B_FE3SN, 2, '#ff0000', 4),
    scatter('Exp. spectrum', [...D_EXP, ...D_EXP_WINGS], 3),
    line('Fe3Sn', D_FE3SN, 3, '#ff0000'),
  ],
  graphic: [
    panelTag(155, 145, '(a)'),
    panelTag(153, 497, '(c)'),
    panelTag(777, 143, '(b)'),
    panelTag(773, 503, '(d)'),
    label(94, 346, '2SSR - 800ºC, 48h', 32, 0.92),
    label(94, 690, 'MA+HT800ºC_48h', 32, 0.91),
    label(714, 346, '2SSR - 800ºC, 48h', 32, 0.92),
    label(709, 690, 'MA+HT800ºC_48h', 32, 0.92),
    iso(576, 334, '57', 'Fe'),
    iso(578, 684, '57', 'Fe'),
    iso(1206, 337, '119', 'Sn'),
    iso(1208, 684, '119', 'Sn'),
    plain(27, 391, 'Relative transmission (arb. units)', 35, Math.PI / 2),
    plain(647, 366, 'Relative transmission (arb. units)', 35, Math.PI / 2),
    plain(336, 764, 'Velocity (mm/s)', 35),
    plain(971, 764, 'Velocity (mm/s)', 35),
  ],
};

export default function App() {
  const ref = useRef<HTMLDivElement>(null);
  useEffect(() => {
    if (!ref.current) return;
    const chart = echarts.init(ref.current, null, { renderer: 'svg' });
    chart.setOption(option);
    return () => chart.dispose();
  }, []);
  return (
    <div
      ref={ref}
      style={{ position: 'fixed', left: 0, top: 0, width: 1211, height: 784, background: '#fff', overflow: 'hidden' }}
    />
  );
}
